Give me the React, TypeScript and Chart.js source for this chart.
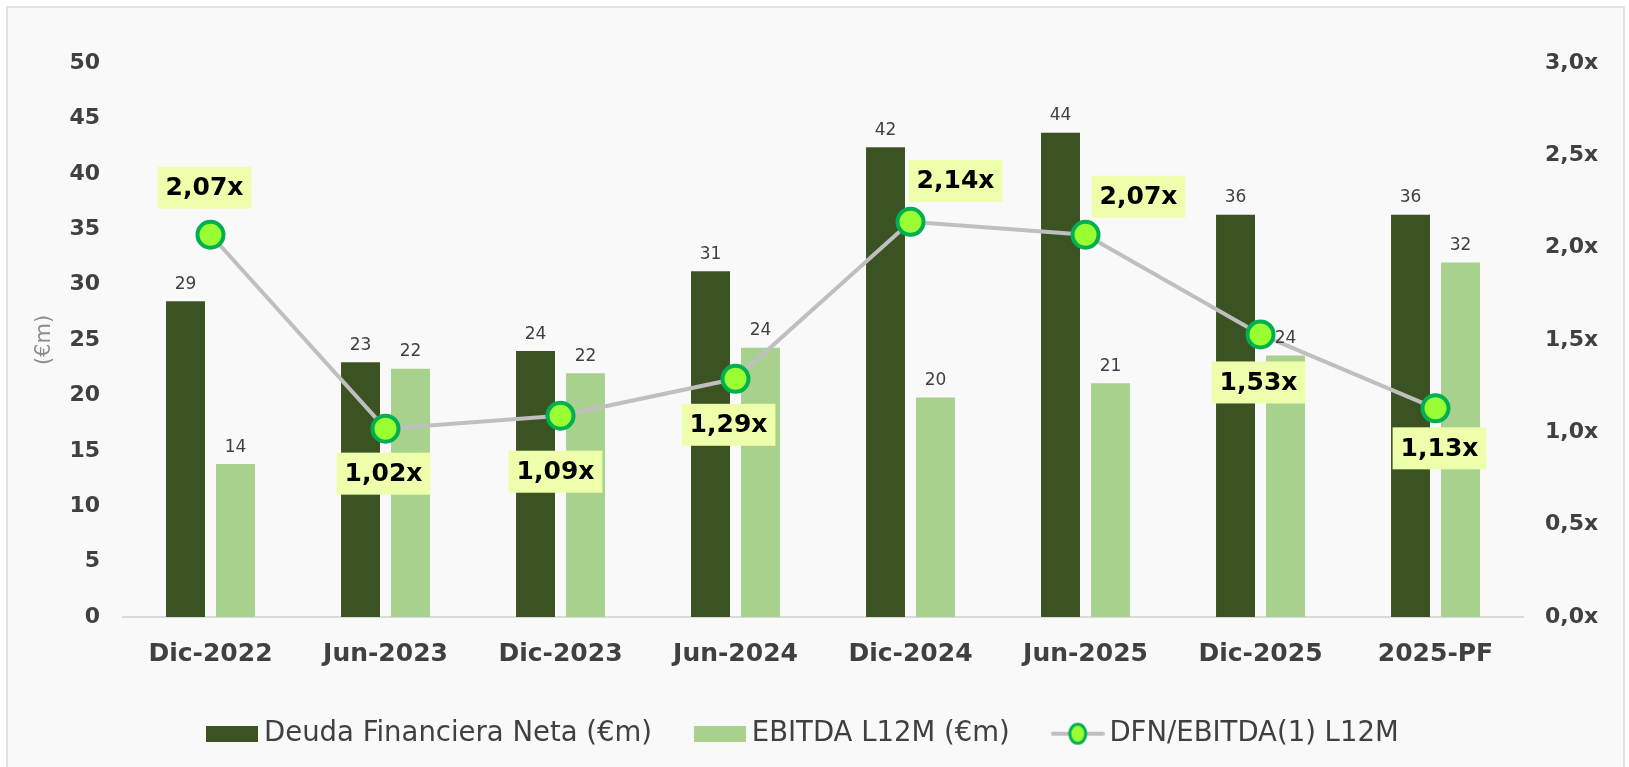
import React, { useEffect, useRef } from "react";
import { Chart, registerables } from "chart.js";

Chart.register(...registerables);

const categories = ["Dic-2022", "Jun-2023", "Dic-2023", "Jun-2024", "Dic-2024", "Jun-2025", "Dic-2025", "2025-PF"];
const deudaValues = [28.5, 23.0, 24.0, 31.2, 42.4, 43.7, 36.3, 36.3];
const ebitdaValues = [13.8, 22.4, 22.0, 24.3, 19.8, 21.1, 23.6, 32.0];
const ratioValues = [2.07, 1.02, 1.09, 1.29, 2.14, 2.07, 1.53, 1.13];
const seriesNames = ["Deuda Financiera Neta (€m)", "EBITDA L12M (€m)", "DFN/EBITDA(1) L12M"];
const leftAxisTitle = "(€m)";

// style: offset of each ratio label box from its point (px)
const ratioLabelOffsets = [
  [-6, -47],
  [-2, 45],
  [-5, 56],
  [-7, 46],
  [45, -41],
  [53, -38],
  [-2, 48],
  [4, 40],
];

const FONT = "'DejaVu Sans', sans-serif";
const DARK = "#3b5323";
const LIGHT = "#a9d18e";
const LINE = "#bfbfbf";
const POINT_FILL = "#99ff33";
const POINT_BORDER = "#00b050";
const TEXT = "#404040";

function rectImage(color: string, w: number, h: number) {
  const c = document.createElement("canvas");
  c.width = w;
  c.height = h;
  const g = c.getContext("2d")!;
  g.fillStyle = color;
  g.fillRect(0, 0, w, h);
  return c;
}

function lineImage() {
  const w = 54;
  const h = 24;
  const c = document.createElement("canvas");
  c.width = w;
  c.height = h;
  const g = c.getContext("2d")!;
  g.strokeStyle = LINE;
  g.lineWidth = 4;
  g.lineCap = "round";
  g.beginPath();
  g.moveTo(2, h / 2);
  g.lineTo(w - 2, h / 2);
  g.stroke();
  g.beginPath();
  g.ellipse(w / 2, h / 2, 8, 9.5, 0, 0, Math.PI * 2);
  g.fillStyle = POINT_FILL;
  g.fill();
  g.lineWidth = 3;
  g.strokeStyle = POINT_BORDER;
  g.stroke();
  return c;
}

const labelPlugin = {
  id: "valueLabels",
  afterDatasetsDraw(chart: any) {
    const ctx = chart.ctx;
    ctx.save();
    [0, 1].forEach((di) => {
      const meta = chart.getDatasetMeta(di);
      const data = chart.data.datasets[di].data as number[];
      meta.data.forEach((el: any, i: number) => {
        ctx.font = `17px ${FONT}`;
        ctx.fillStyle = TEXT;
        ctx.textAlign = "center";
        ctx.textBaseline = "middle";
        ctx.fillText(String(Math.round(data[i])), el.x, el.y - 17);
      });
    });
    const lm = chart.getDatasetMeta(2);
    const rdata = chart.data.datasets[2].data as number[];
    lm.data.forEach((el: any, i: number) => {
      const txt = rdata[i].toFixed(2).replace(".", ",") + "x";
      ctx.font = `bold 25px ${FONT}`;
      const w = ctx.measureText(txt).width + 16;
      const h = 42;
      const [dx, dy] = ratioLabelOffsets[i];
      const cx = el.x + dx;
      const cy = el.y + dy;
      ctx.fillStyle = "#edffaa";
      ctx.fillRect(cx - w / 2, cy - h / 2, w, h);
      ctx.fillStyle = "#000000";
      ctx.textAlign = "center";
      ctx.textBaseline = "middle";
      ctx.fillText(txt, cx, cy + 1);
    });
    ctx.restore();
  },
};

export default function App() {
  const ref = useRef<HTMLCanvasElement | null>(null);

  useEffect(() => {
    document.body.style.margin = "0";
    const legendImages = [rectImage(DARK, 52, 16), rectImage(LIGHT, 52, 16), lineImage()];
    const chart = new Chart(ref.current!, {
      type: "bar",
      data: {
        labels: categories,
        datasets: [
          {
            type: "bar",
            label: seriesNames[0],
            data: deudaValues,
            backgroundColor: DARK,
            yAxisID: "y",
            categoryPercentage: 0.571,
            barPercentage: 0.78,
            order: 2,
          },
          {
            type: "bar",
            label: seriesNames[1],
            data: ebitdaValues,
            backgroundColor: LIGHT,
            yAxisID: "y",
            categoryPercentage: 0.571,
            barPercentage: 0.78,
            order: 2,
          },
          {
            type: "line",
            label: seriesNames[2],
            data: ratioValues,
            yAxisID: "y1",
            borderColor: LINE,
            borderWidth: 4,
            tension: 0,
            pointRadius: 13,
            pointBorderWidth: 4,
            pointBackgroundColor: POINT_FILL,
            pointBorderColor: POINT_BORDER,
            order: 1,
          } as any,
        ],
      },
      options: {
        responsive: false,
        animation: false,
        devicePixelRatio: 1,
        events: [],
        layout: { padding: { left: 10, right: 26, top: 63, bottom: 9.5 } },
        plugins: {
          tooltip: { enabled: false },
          legend: {
            position: "bottom",
            labels: {
              usePointStyle: true,
              pointStyleWidth: 36,
              padding: 50,
              color: TEXT,
              font: { family: FONT, size: 27.5 },
              sort: (a: any, b: any) => a.datasetIndex - b.datasetIndex,
              generateLabels: (chart: any) => {
                const items = (Chart as any).defaults.plugins.legend.labels.generateLabels(chart);
                return items.map((it: any) => ({ ...it, pointStyle: legendImages[it.datasetIndex] }));
              },
            },
          },
        },
        scales: {
          x: {
            grid: { display: false, drawTicks: false },
            border: { display: true, color: "#d9d9d9", width: 2 },
            ticks: { color: TEXT, font: { family: FONT, size: 25, weight: "bold" }, padding: 22 },
            afterFit: (s: any) => {
              s.height = 53;
            },
          },
          y: {
            position: "left",
            min: 0,
            max: 50,
            grid: { display: false, drawTicks: false },
            border: { display: false },
            ticks: { stepSize: 5, color: TEXT, font: { family: FONT, size: 22, weight: "bold" }, padding: 23 },
            title: {
              display: true,
              text: leftAxisTitle,
              color: "#8c8c8c",
              font: { family: FONT, size: 21 },
              padding: { top: 22, bottom: 0 },
            },
            afterFit: (s: any) => {
              s.width = 113;
            },
          },
          y1: {
            position: "right",
            min: 0,
            max: 3,
            grid: { display: false, drawTicks: false },
            border: { display: false },
            ticks: {
              stepSize: 0.5,
              color: TEXT,
              font: { family: FONT, size: 22, weight: "bold" },
              padding: 22,
              callback: (v: any) => Number(v).toFixed(1).replace(".", ",") + "x",
            },
            afterFit: (s: any) => {
              s.width = 80;
            },
          },
        },
      } as any,
      plugins: [labelPlugin],
    });
    return () => chart.destroy();
  }, []);

  return (
    <div style={{ position: "fixed", left: 0, top: 0, width: 1629, height: 767, overflow: "hidden", background: "#ffffff" }}>
      <div
        style={{
          position: "absolute",
          left: 6,
          top: 6,
          width: 1619,
          height: 800,
          border: "2px solid #e2e2e2",
          background: "#f9f9f9",
          boxSizing: "border-box",
        }}
      />
      <canvas ref={ref} width={1629} height={767} style={{ position: "absolute", left: 0, top: 0 }} />
    </div>
  );
}
